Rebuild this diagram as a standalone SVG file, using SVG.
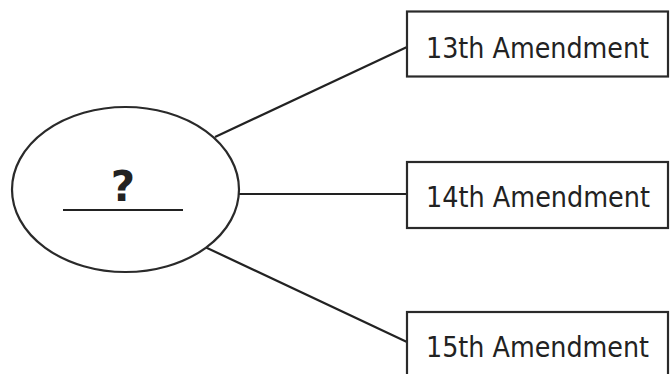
<svg xmlns="http://www.w3.org/2000/svg" width="671" height="374" viewBox="0 0 671 374">
<style>
.shape{fill:#fff;stroke:#2a2a2a;stroke-width:2.2}
.conn{stroke:#222;stroke-width:2.2;fill:none}
.lbl{font-family:"DejaVu Sans","Liberation Sans",sans-serif;font-size:28px;fill:#222}
.q{font-family:"DejaVu Sans","Liberation Sans",sans-serif;font-size:42px;font-weight:bold;fill:#222;text-anchor:middle}
</style>
<rect width="671" height="374" fill="#fff"/>
<g id="connectors">
<line class="conn" x1="215" y1="137" x2="407" y2="47"/>
<line class="conn" x1="239" y1="194" x2="407" y2="194"/>
<line class="conn" x1="205" y1="247" x2="407" y2="342"/>
</g>
<g id="center">
<ellipse class="shape" cx="125.5" cy="189.5" rx="113.5" ry="82.5"/>
<text class="q" x="123" y="201">?</text>
<line class="conn" x1="63" y1="210" x2="183" y2="210" stroke-width="2.6"/>
</g>
<g id="amend13">
<rect class="shape" x="407" y="11.5" width="261" height="65"/>
<text class="lbl" x="426" y="58" textLength="223" lengthAdjust="spacingAndGlyphs">13th Amendment</text>
</g>
<g id="amend14">
<rect class="shape" x="407" y="162" width="261" height="66"/>
<text class="lbl" x="426" y="207" textLength="224" lengthAdjust="spacingAndGlyphs">14th Amendment</text>
</g>
<g id="amend15">
<rect class="shape" x="407" y="312" width="261" height="68"/>
<text class="lbl" x="426" y="357" textLength="223" lengthAdjust="spacingAndGlyphs">15th Amendment</text>
</g>
</svg>
